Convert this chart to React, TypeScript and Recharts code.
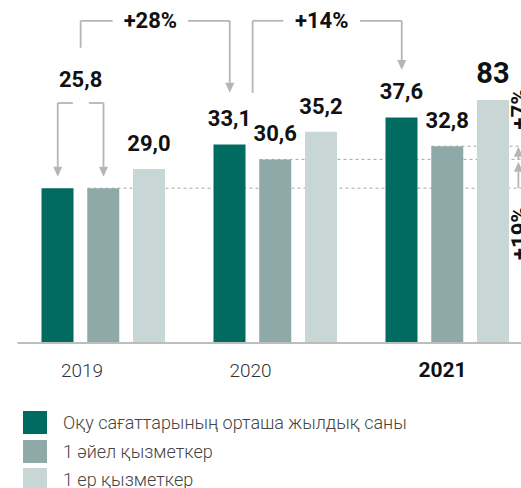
import { BarChart, Bar, XAxis, YAxis, ReferenceLine, ReferenceDot, LabelList } from 'recharts';

const years = ['2019', '2020', '2021'];
const avgHours = [25.8, 33.1, 37.6];
const womanHours = [25.8, 30.6, 32.8];
const manHours = [29.0, 35.2, 40.5];
const avgLabels = ['', '33,1', '37,6'];
const womanLabels = ['', '30,6', '32,8'];
const manLabels = ['29,0', '35,2', '83'];
const seriesNames = ['Оқу сағаттарының орташа жылдық саны', '1 әйел қызметкер', '1 ер қызметкер'];
const colors = ['#026b61', '#8fa9a9', '#c9d6d6'];

const data = years.map((year, i) => ({
    year,
    slot: i + 0.5,
    avg: avgHours[i],
    woman: womanHours[i],
    man: manHours[i],
    avgLabel: avgLabels[i],
    womanLabel: womanLabels[i],
    manLabel: manLabels[i],
}));

// layout
const BAR = 32;
const GAP = 13.75;
const BAND = 172;
const STEP = (BAR + GAP) / BAND;
const GREY = '#b5b5b5';
const FONT = 'Roboto, sans-serif';
const tickShift = [-21.5, -25, -5];

// x position on the hidden numeric axis: category index + bar slot (0,1,2)
const pos = (cat: number, slot: number) => cat + 0.5 + (slot - 1) * STEP;

// annotation brackets, in (category position, value) units
const brackets = [
    { pts: [[pos(0, 0.33), 40], [pos(0, 0), 40], [pos(0, 0), 27.7]], arrow: true },
    { pts: [[pos(0, 0.68), 40], [pos(0, 1), 40], [pos(0, 1), 27.7]], arrow: true },
    { pts: [[pos(0, 0.5), 49.2], [pos(0, 0.5), 53.7], [pos(0, 1.2), 53.7]], arrow: false },
    { pts: [[pos(1, -0.91), 53.7], [pos(1, 0), 53.7], [pos(1, 0), 41.7]], arrow: true },
    { pts: [[pos(1, 0.5), 41.7], [pos(1, 0.5), 53.7], [pos(1, 1.17), 53.7]], arrow: false },
    { pts: [[pos(2, -0.91), 53.7], [pos(2, 0), 53.7], [pos(2, 0), 45.5]], arrow: true },
    { pts: [[pos(2, 2.55), 25.8], [pos(2, 2.55), 30.2]], arrow: true },
    { pts: [[pos(2, 2.55), 30.6], [pos(2, 2.55), 32.7]], arrow: true },
];

const notes = [
    { x: pos(0, 0.5), y: 42.7, text: '25,8', rotate: false },
    { x: (pos(0, 1.2) + pos(1, -0.91)) / 2, y: 52.5, text: '+28%', rotate: false },
    { x: (pos(1, 1.17) + pos(2, -0.91)) / 2, y: 52.5, text: '+14%', rotate: false },
    { x: pos(2, 2.73), y: 39, text: '+7%', rotate: true },
    { x: pos(2, 2.73), y: 18.3, text: '+19%', rotate: true },
];

const dashed = [
    { from: pos(0, 1) - BAR / 2 / BAND, y: womanHours[0] },
    { from: pos(1, 1) - BAR / 2 / BAND, y: womanHours[1] },
    { from: pos(2, 1) - BAR / 2 / BAND, y: womanHours[2] },
];

const segShape = (arrow: boolean) => (p: any) => {
    const { x1, y1, x2, y2 } = p;
    if (!arrow) {
        return <line x1={x1} y1={y1} x2={x2} y2={y2} stroke={GREY} strokeWidth={1.8} />;
    }
    const len = Math.hypot(x2 - x1, y2 - y1) || 1;
    const dx = (x2 - x1) / len;
    const dy = (y2 - y1) / len;
    const bx = x2 - dx * 10;
    const by = y2 - dy * 10;
    const pts = `${x2},${y2} ${bx - dy * 4.5},${by + dx * 4.5} ${bx + dy * 4.5},${by - dx * 4.5}`;
    return (
        <g>
            <line x1={x1} y1={y1} x2={bx} y2={by} stroke={GREY} strokeWidth={1.8} />
            <polygon points={pts} fill={GREY} />
        </g>
    );
};

const noteShape = (text: string, rotate: boolean) => (p: any) => {
    const { cx, cy } = p;
    return (
        <text
            x={cx}
            y={cy}
            textAnchor="middle"
            fontSize={22}
            fontWeight={700}
            fill="#111"
            fontFamily={FONT}
            transform={rotate ? `rotate(-90 ${cx} ${cy})` : undefined}
        >
            {text}
        </text>
    );
};

const barLabel = (bigIndex: number) => (p: any) => {
    const { x, y, width, value, index } = p;
    if (!value) return null;
    const big = index === bigIndex;
    return (
        <text
            x={Number(x) + Number(width) / 2}
            y={Number(y) - (big ? 17 : 18)}
            textAnchor="middle"
            fontSize={big ? 29 : 22}
            fontWeight={700}
            fill="#111"
            fontFamily={FONT}
        >
            {value}
        </text>
    );
};

const YearTick = (p: any) => {
    const { x, y, payload } = p;
    const i = years.indexOf(payload.value);
    const bold = i === years.length - 1;
    return (
        <text
            x={x + tickShift[i]}
            y={y + 34}
            textAnchor="middle"
            fontSize={bold ? 21 : 19}
            fontWeight={bold ? 700 : 300}
            fill={bold ? '#111' : '#333'}
            fontFamily={FONT}
        >
            {payload.value}
        </text>
    );
};

const App = () => {
    return (
        <div style={{ position: 'absolute', left: 0, top: 0, width: 521, height: 488, overflow: 'hidden', fontFamily: FONT, background: '#fff' }}>
            <BarChart
                width={540}
                height={388}
                data={data}
                margin={{ top: 7, right: 6.5, left: 17.5, bottom: 0 }}
                barSize={BAR}
                barGap={GAP}
            >
                <XAxis
                    xAxisId="cat"
                    dataKey="year"
                    type="category"
                    height={45}
                    tickLine={false}
                    tickSize={0}
                    tickMargin={0}
                    axisLine={{ stroke: '#bdbdbd', strokeWidth: 2 }}
                    tick={<YearTick />}
                    interval={0}
                />
                <XAxis xAxisId="n" dataKey="slot" type="number" domain={[0, 3]} allowDataOverflow hide />
                <YAxis type="number" domain={[0, 56]} allowDataOverflow hide />
                {dashed.map((d, i) => (
                    <ReferenceLine
                        key={`d${i}`}
                        xAxisId="n"
                        segment={[{ x: d.from, y: d.y }, { x: 3, y: d.y }]}
                        stroke="#a8a8a8"
                        strokeDasharray="3 3"
                        strokeWidth={1}
                        zIndex={-10}
                    />
                ))}
                <Bar xAxisId="cat" dataKey="avg" name={seriesNames[0]} fill={colors[0]} isAnimationActive={false}>
                    <LabelList dataKey="avgLabel" content={barLabel(-1)} />
                </Bar>
                <Bar xAxisId="cat" dataKey="woman" name={seriesNames[1]} fill={colors[1]} isAnimationActive={false}>
                    <LabelList dataKey="womanLabel" content={barLabel(-1)} />
                </Bar>
                <Bar xAxisId="cat" dataKey="man" name={seriesNames[2]} fill={colors[2]} isAnimationActive={false}>
                    <LabelList dataKey="manLabel" content={barLabel(2)} />
                </Bar>
                {brackets.map((b, i) =>
                    b.pts.slice(1).map((pt, j) => (
                        <ReferenceLine
                            key={`b${i}-${j}`}
                            xAxisId="n"
                            segment={[{ x: b.pts[j][0], y: b.pts[j][1] }, { x: pt[0], y: pt[1] }]}
                            shape={segShape(b.arrow && j === b.pts.length - 2)}
                        />
                    ))
                )}
                {notes.map((n, i) => (
                    <ReferenceDot
                        key={`n${i}`}
                        xAxisId="n"
                        x={n.x}
                        y={n.y}
                        r={0}
                        shape={noteShape(n.text, n.rotate)}
                    />
                ))}
            </BarChart>
            <div style={{ position: 'absolute', left: 23, top: 411 }}>
                {seriesNames.map((name, i) => (
                    <div key={name} style={{ display: 'flex', alignItems: 'center', height: 23, marginBottom: 5.5 }}>
                        <div style={{ width: 24, height: 23, background: colors[i] }} />
                        <span style={{ marginLeft: 16, fontSize: 18, fontWeight: 300, color: '#444', whiteSpace: 'nowrap' }}>{name}</span>
                    </div>
                ))}
            </div>
        </div>
    );
};

export default App;
